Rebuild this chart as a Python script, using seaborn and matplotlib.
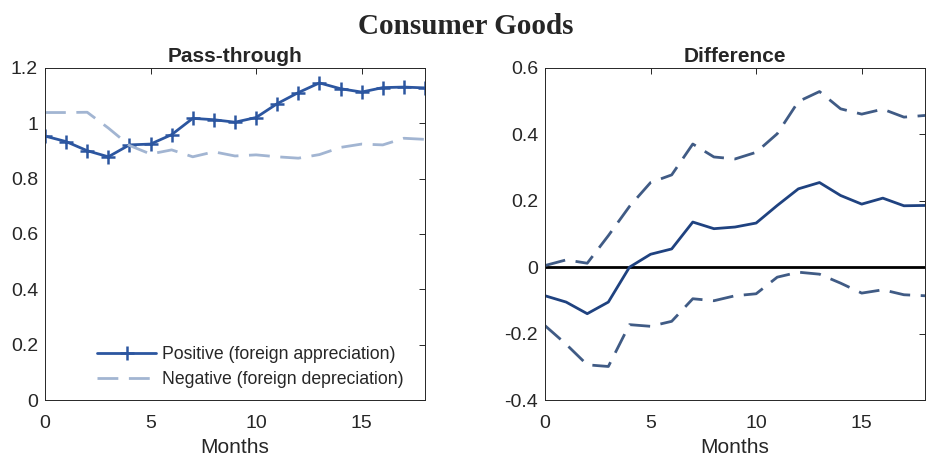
import numpy as np
import pandas as pd
import matplotlib
matplotlib.use("Agg")
import matplotlib.pyplot as plt
import seaborn as sns

months = list(range(19))

positive = [0.954, 0.934, 0.901, 0.879, 0.922, 0.925, 0.959, 1.018, 1.013, 1.004,
            1.021, 1.071, 1.111, 1.146, 1.125, 1.113, 1.129, 1.131, 1.128]
negative = [1.039, 1.039, 1.040, 0.983, 0.920, 0.889, 0.904, 0.879, 0.897, 0.882,
            0.886, 0.879, 0.874, 0.887, 0.913, 0.925, 0.922, 0.946, 0.942]

diff_mean = [-0.086, -0.105, -0.140, -0.105, 0.000, 0.039, 0.055, 0.136, 0.116, 0.121,
             0.133, 0.186, 0.236, 0.255, 0.216, 0.190, 0.208, 0.185, 0.186]
diff_upper = [0.005, 0.022, 0.012, 0.095, 0.183, 0.255, 0.278, 0.371, 0.332, 0.326,
              0.346, 0.402, 0.499, 0.529, 0.477, 0.461, 0.476, 0.452, 0.457]
diff_lower = [-0.176, -0.232, -0.294, -0.299, -0.173, -0.178, -0.163, -0.095, -0.101, -0.086,
              -0.080, -0.030, -0.015, -0.021, -0.048, -0.078, -0.068, -0.083, -0.086]

left_yticks = [0, 0.2, 0.4, 0.6, 0.8, 1.0, 1.2]
left_ylabels = ["0", "0.2", "0.4", "0.6", "0.8", "1", "1.2"]
right_yticks = [-0.4, -0.2, 0, 0.2, 0.4, 0.6]
right_ylabels = ["-0.4", "-0.2", "0", "0.2", "0.4", "0.6"]
xticks = [0, 5, 10, 15]

POS_COLOR = "#2c56a0"
NEG_COLOR = "#a2b5d2"
MEAN_COLOR = "#1f4280"
BAND_COLOR = "#405b85"
DASH = [7.5, 3.8]

sns.set_theme(style="white")
plt.rcParams["font.family"] = ["Liberation Sans", "DejaVu Sans"]

fig = plt.figure(figsize=(9.31, 4.59), dpi=100)
ax1 = fig.add_axes([0.0483, 0.1285, 0.4082, 0.7234])
ax2 = fig.add_axes([0.5854, 0.1285, 0.4082, 0.7234])

# Left panel: pass-through for positive and negative shocks
pt = pd.DataFrame({"Months": months, "pos": positive, "neg": negative})
sns.lineplot(data=pt, x="Months", y="pos", ax=ax1, color=POS_COLOR, lw=2.0,
             marker="+", markersize=10, markeredgewidth=1.8,
             markeredgecolor=POS_COLOR, markerfacecolor=POS_COLOR,
             label="Positive (foreign appreciation)")
sns.lineplot(data=pt, x="Months", y="neg", ax=ax1, color=NEG_COLOR, lw=2.0,
             label="Negative (foreign depreciation)")
for ln in ax1.lines:
    if ln.get_label().startswith("Negative"):
        ln.set_dashes(DASH)

# Right panel: difference with bands
df = pd.DataFrame({"Months": months, "mean": diff_mean, "up": diff_upper, "lo": diff_lower})
ax2.axhline(0, color="black", lw=2.0, zorder=1)
sns.lineplot(data=df, x="Months", y="mean", ax=ax2, color=MEAN_COLOR, lw=2.0)
for col in ["up", "lo"]:
    sns.lineplot(data=df, x="Months", y=col, ax=ax2, color=BAND_COLOR, lw=2.0)
    ax2.lines[-1].set_dashes(DASH)

ax1.set_ylim(0, 1.2)
ax1.set_yticks(left_yticks)
ax1.set_yticklabels(left_ylabels)
ax2.set_ylim(-0.4, 0.6)
ax2.set_yticks(right_yticks)
ax2.set_yticklabels(right_ylabels)

for ax, title in [(ax1, "Pass-through"), (ax2, "Difference")]:
    ax.set_xlim(0, 18)
    ax.set_xticks(xticks)
    ax.set_xticklabels([str(t) for t in xticks])
    ax.set_xlabel("Months", fontsize=15, color="#262626", labelpad=4)
    ax.set_ylabel("")
    ax.set_title(title, fontsize=15, fontweight="bold", pad=4)
    ax.tick_params(direction="in", length=4, width=0.7, colors="#262626",
                   labelsize=14, top=True, right=True)
    ax.tick_params(axis="x", pad=11)
    ax.tick_params(axis="y", pad=5)
    for s in ax.spines.values():
        s.set_visible(True)
        s.set_color("#262626")
        s.set_linewidth(0.7)

leg = ax1.legend(loc="lower left", bbox_to_anchor=(0.137, 0.035), frameon=False,
                 fontsize=12.7, handlelength=3.35, handletextpad=0.35,
                 labelspacing=0.45, borderpad=0, borderaxespad=0)

fig.text(0.5, 0.972, "Consumer Goods", ha="center", va="top", fontsize=21,
         fontweight="bold", family=["Liberation Serif", "DejaVu Serif"])

fig.savefig("out.png", dpi=100)
